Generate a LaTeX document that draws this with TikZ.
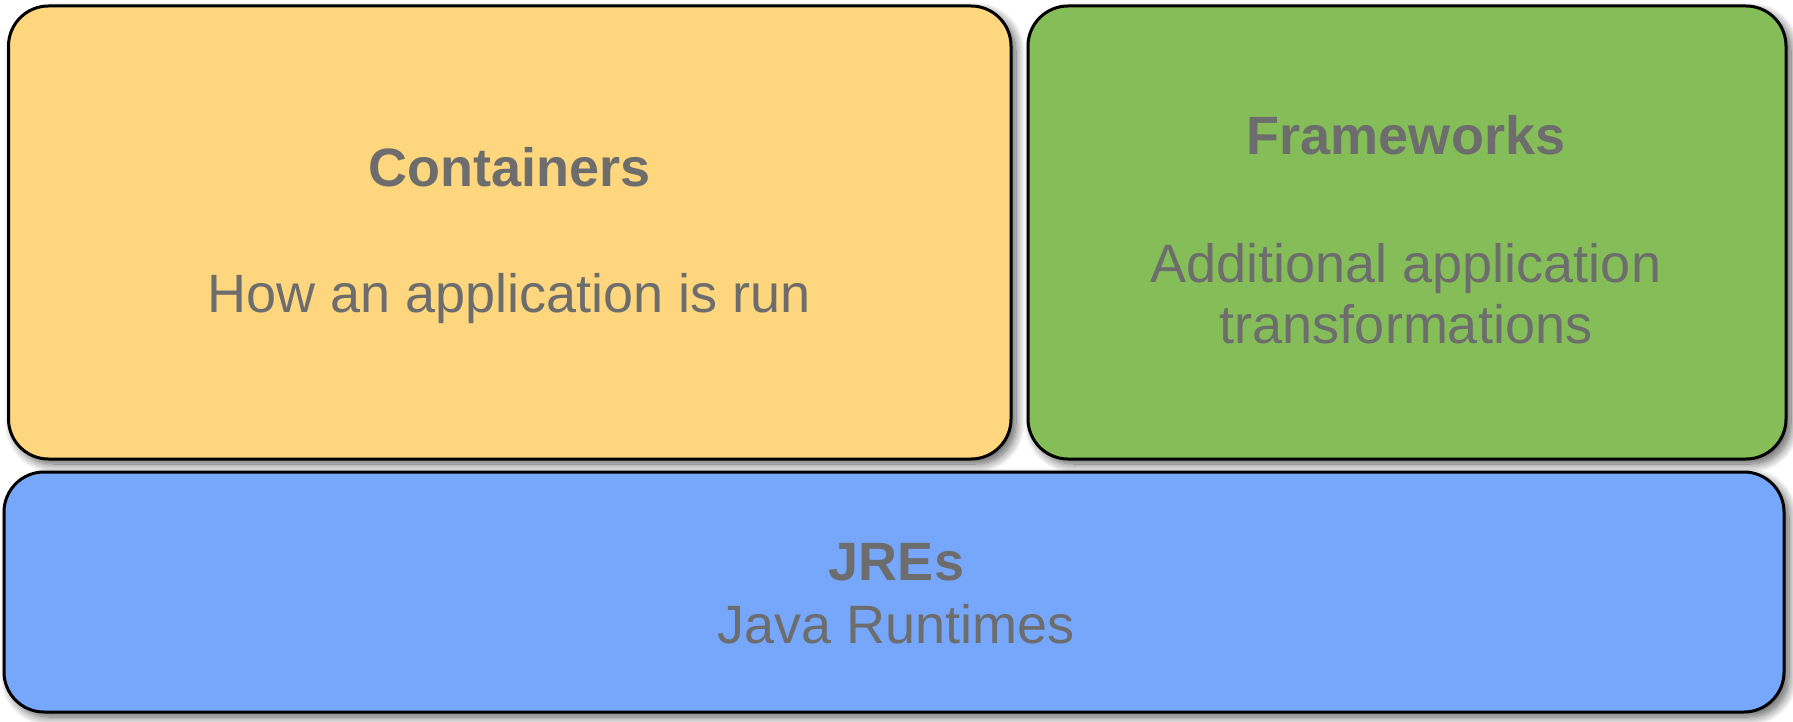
\documentclass[tikz,border=0pt]{standalone}
\usepackage{fontspec}
\setmainfont{Liberation Sans}
\usetikzlibrary{shadows.blur}
\definecolor{boxyellow}{RGB}{253,214,126}
\definecolor{boxgreen}{RGB}{133,190,88}
\definecolor{boxblue}{RGB}{118,167,250}
\definecolor{labelgrey}{RGB}{109,109,109}
\begin{document}
\begin{tikzpicture}[x=1pt,y=-1pt,
  layer/.style={draw=black, line width=3pt, rounded corners=40pt,
    inner sep=0pt, outer sep=0pt,
    blur shadow={shadow xshift=5pt, shadow yshift=-5pt, shadow blur radius=9pt,
      shadow opacity=65, shadow blur steps=14}},
  title/.style={anchor=base, text=labelgrey, font=\fontsize{54}{62}\selectfont\bfseries},
  desc/.style={anchor=base, text=labelgrey, font=\fontsize{54}{62}\selectfont}]
  \useasboundingbox (0,0) rectangle (1793,722);
  % the three layers
  \node[layer, fill=boxyellow, minimum width=1002.5pt, minimum height=453pt] (containers) at (509.75,232.5) {};
  \node[layer, fill=boxgreen, minimum width=758pt, minimum height=453pt] (frameworks) at (1407,232.5) {};
  \node[layer, fill=boxblue, minimum width=1780pt, minimum height=240pt] (jres) at (894,592) {};
  % labels
  \node[title] (containersT) at (510,187) {Containers};
  \node[desc] (containersD) at (509,312) {How an application is run};
  \node[title] (frameworksT) at (1406,155) {Frameworks};
  \node[desc] (frameworksD1) at (1406,282) {Additional application};
  \node[desc] (frameworksD2) at (1406,343) {transformations};
  \node[title] (jresT) at (896.5,580) {JREs};
  \node[desc] (jresD) at (896.5,643) {Java Runtimes};
\end{tikzpicture}
\end{document}
